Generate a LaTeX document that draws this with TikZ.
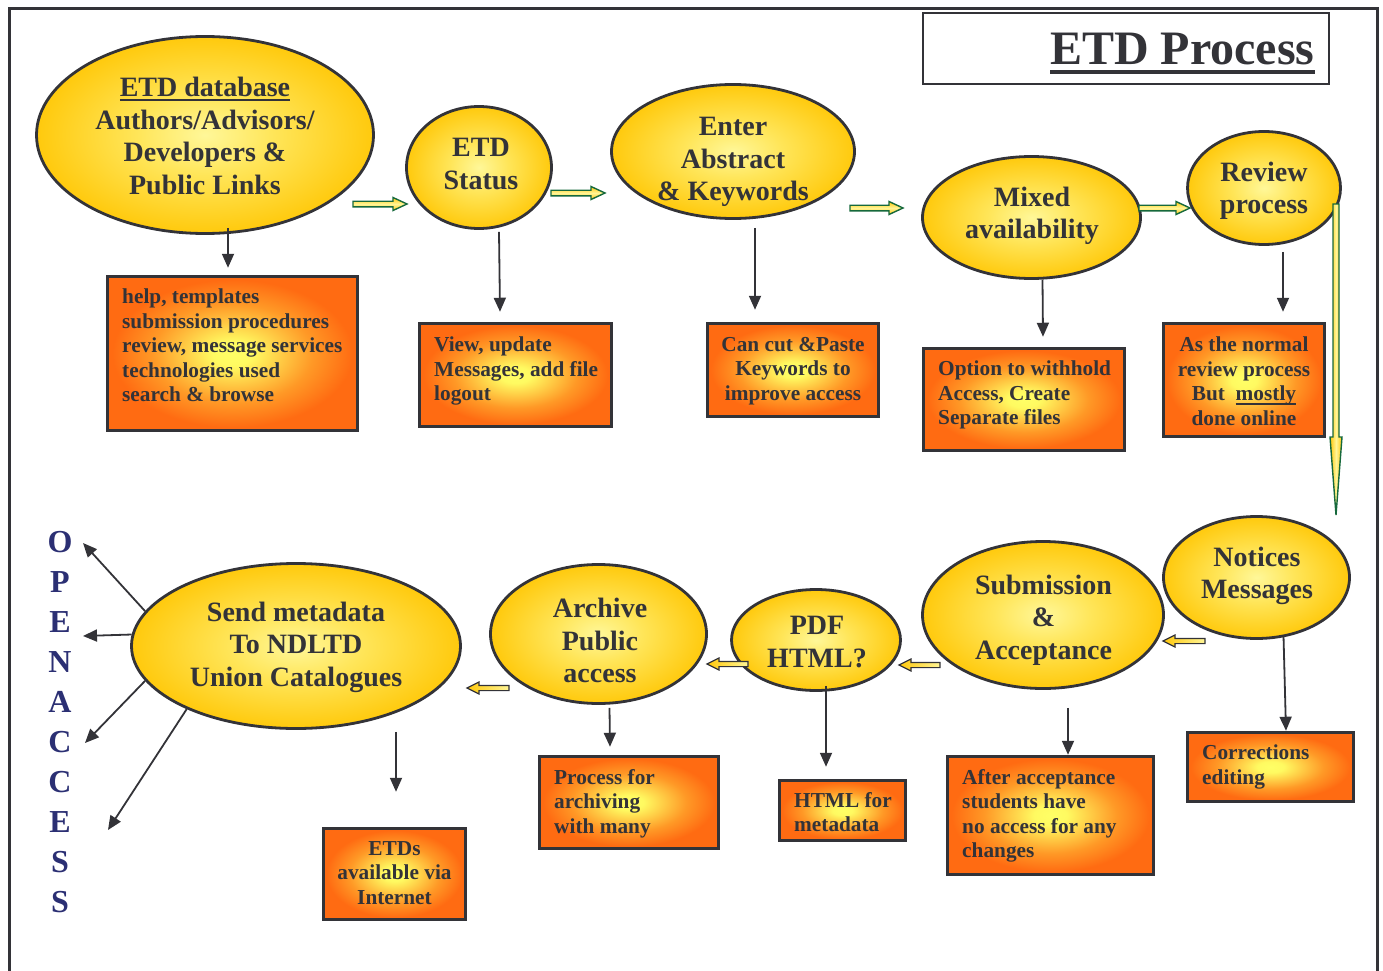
\documentclass[tikz,border=0pt]{standalone}
\usepackage{fontspec}
\setmainfont{Liberation Serif}
\usetikzlibrary{shapes.geometric,arrows.meta,calc}
\definecolor{ink}{RGB}{51,51,56}
\definecolor{navy}{RGB}{43,47,115}
\definecolor{agreen}{RGB}{22,105,60}
\definecolor{gold}{RGB}{255,200,10}
\definecolor{lightyel}{RGB}{255,245,150}
\pgfdeclareradialshading{ellshade}{\pgfpoint{0bp}{0bp}}{rgb(0bp)=(1,0.97,0.6); rgb(10bp)=(1,0.9,0.35); rgb(25bp)=(1,0.79,0.05); rgb(100bp)=(1,0.79,0.05)}
\pgfdeclareradialshading{boxshade}{\pgfpoint{0bp}{0bp}}{rgb(0bp)=(1,1,0.4); rgb(4bp)=(1,0.98,0.38); rgb(16bp)=(1,0.6,0.15); rgb(24bp)=(1,0.42,0.07); rgb(100bp)=(1,0.42,0.07)}
\newcommand\ulx[3]{\setbox0=\hbox{#3}\rlap{\rule[-#1]{\wd0}{#2}}\box0}
\newcommand\rba[3]{\draw[garr] (#1,#3-2.8) -- (#2-14,#3-2.8) -- (#2-14,#3-6.5) -- (#2,#3) -- (#2-14,#3+6.5) -- (#2-14,#3+2.8) -- (#1,#3+2.8) -- cycle;}
\newcommand\lba[3]{\draw[larr] (#1,#3-2.6) -- (#2+12,#3-2.6) -- (#2+12,#3-6) -- (#2,#3) -- (#2+12,#3+6) -- (#2+12,#3+2.6) -- (#1,#3+2.6) -- cycle;}
\tikzset{
 ell/.style={ellipse, draw=ink, line width=2.8pt, shade, shading=ellshade, inner sep=0pt},
 ebox/.style={rectangle, draw=ink, line width=3.5pt, shade, shading=boxshade, inner sep=0pt},
 etxt/.style={text=ink, font=\fontsize{28}{32.5}\selectfont\bfseries, align=center, inner sep=0pt},
 btxt/.style={text=ink, font=\fontsize{21.3}{24.5}\selectfont\bfseries, inner sep=0pt},
 conn/.style={draw=ink, line width=1.8pt, -{Triangle[length=14pt,width=12pt]}},
 garr/.style={draw=agreen, line width=1.4pt, top color=gold, bottom color=gold, middle color=lightyel},
 vgarr/.style={draw=agreen, line width=1.4pt, left color=gold, right color=gold, middle color=lightyel},
 larr/.style={draw=ink, line width=1.2pt, left color=gold, right color=lightyel},
}
\begin{document}
\begin{tikzpicture}[x=1pt,y=-1pt]
\useasboundingbox (0,0) rectangle (1383,971);
\draw[ink, line width=3pt] (9,971) -- (9,9) -- (1377,9) -- (1377,971);
\node[draw=ink, line width=2pt, minimum width=406pt, minimum height=71pt, anchor=north west, inner sep=0pt] (tbox) at (922,12) {};
\node[text=ink, font=\fontsize{48}{50}\selectfont\bfseries, anchor=base west, inner sep=0pt] (title) at (1050,65) {\ulx{9pt}{4pt}{ETD Process}};

% ellipses
\node[ell, minimum width=337pt, minimum height=197pt] (e1) at (205,135) {};
\node[ell, minimum width=145pt, minimum height=122pt] (e2) at (479,167.5) {};
\node[ell, minimum width=243pt, minimum height=134pt] (e3) at (733,151.5) {};
\node[ell, minimum width=218pt, minimum height=122pt] (e4) at (1031.5,217.5) {};
\node[ell, minimum width=153pt, minimum height=113pt] (e5) at (1264,188) {};
\node[ell, minimum width=186pt, minimum height=122pt] (e6) at (1256.5,577.5) {};
\node[ell, minimum width=241pt, minimum height=147pt] (e7) at (1043,615) {};
\node[ell, minimum width=169pt, minimum height=101pt] (e8) at (816,640) {};
\node[ell, minimum width=216pt, minimum height=139pt] (e9) at (598.5,634) {};
\node[ell, minimum width=329pt, minimum height=165pt] (e10) at (296,646) {};

\node[etxt] (t1) at (205,136) {\ulx{4pt}{2pt}{ETD database}\\Authors/Advisors/\\Developers \&\\Public Links};
\node[etxt] (t2) at (481,164) {ETD\\Status};
\node[etxt] (t3) at (733,162) {Enter\\Abstract\\\& Keywords};
\node[etxt] (t4) at (1032,216) {Mixed\\availability};
\node[etxt] (t5) at (1264,191) {Review\\process};
\node[etxt] (t6) at (1257,576) {Notices\\Messages};
\node[etxt] (t7) at (1043.5,620) {Submission\\\&\\Acceptance};
\node[etxt] (t8) at (817,642) {PDF\\HTML?};
\node[etxt] (t9) at (600,640.5) {Archive\\Public\\access};
\node[etxt] (t10) at (296,647) {Send metadata\\To NDLTD\\Union Catalogues};

% boxes
\node[ebox, minimum width=250pt, minimum height=154pt] (bA) at (232.5,353.5) {};
\node[ebox, minimum width=192pt, minimum height=103pt] (bB) at (515.5,375) {};
\node[ebox, minimum width=171pt, minimum height=93pt] (bC) at (793,370) {};
\node[ebox, minimum width=201pt, minimum height=102pt] (bD) at (1024,399.5) {};
\node[ebox, minimum width=161pt, minimum height=113pt] (bE) at (1244,380) {};
\node[ebox, minimum width=166pt, minimum height=69pt] (bF) at (1270.5,767) {};
\node[ebox, minimum width=206pt, minimum height=118pt] (bG) at (1050.5,815.5) {};
\node[ebox, minimum width=126pt, minimum height=60pt] (bH) at (842.5,810.5) {};
\node[ebox, minimum width=179pt, minimum height=92pt] (bI) at (629,802.5) {};
\node[ebox, minimum width=142pt, minimum height=91pt] (bJ) at (394.5,874) {};

\node[btxt, align=left, anchor=north west] (xA) at (122,289) {help, templates\\submission procedures\\review, message services\\technologies used\\search \& browse};
\node[btxt, align=left, anchor=north west] (xB) at (434,337) {View, update\\Messages, add file\\logout};
\node[btxt, align=center, anchor=north] (xC) at (793,337) {Can cut \&Paste\\Keywords to\\improve access};
\node[btxt, align=left, anchor=north west] (xD) at (938,361) {Option to withhold\\Access, Create\\Separate files};
\node[btxt, align=center, anchor=north] (xE) at (1244,337) {As the normal\\review process\\But~~\ulx{4.5pt}{2pt}{mostly}\\done online};
\node[btxt, align=left, anchor=north west] (xF) at (1202,745) {Corrections\\editing};
\node[btxt, align=left, anchor=north west] (xG) at (962,769) {After acceptance\\students have\\no access for any\\changes};
\node[btxt, align=left, anchor=north west] (xH) at (794,792) {HTML for\\metadata};
\node[btxt, align=left, anchor=north west] (xI) at (554,769) {Process for\\archiving\\with many};
\node[btxt, align=center, anchor=north] (xJ) at (394.5,841) {ETDs\\available via\\Internet};

% open access letters
\node[text=navy, font=\fontsize{32}{40}\selectfont\bfseries, align=center, inner sep=0pt] (oa) at (60,722) {O\\P\\E\\N\\A\\C\\C\\E\\S\\S};

% connectors
\draw[conn] ($(e1.south)+(23,-7)$) -- ($(bA.north)+(-4.5,-7)$);
\draw[conn] ($(e2.south)+(20,2)$) -- ($(bB.north)+(-15.5,-10)$);
\draw[conn] ($(e3.south)+(22,8)$) -- ($(bC.north)+(-38,-12)$);
\draw[conn] ($(e4.south)+(11,0)$) -- ($(bD.north)+(19,-10)$);
\draw[conn] ($(e5.south)+(19,6)$) -- ($(bE.north)+(39,-10)$);
\draw[conn] ($(e6.south)+(27,-4)$) -- ($(bF.north)+(15.5,0)$);
\draw[conn] ($(e7.south)+(25,18)$) -- ($(bG.north)+(17.5,0)$);
\draw[conn] ($(e8.south)+(10,-6)$) -- ($(bH.north)+(-16.5,-12)$);
\draw[conn] ($(e9.south)+(11,3)$) -- ($(bI.north)+(-19,-8)$);
\draw[conn] ($(e10.south)+(100,2)$) -- ($(bJ.north)+(1.5,-35)$);

\coordinate (oa1) at (83,543);
\coordinate (oa2) at (83,636);
\coordinate (oa3) at (85,743);
\coordinate (oa4) at (108,830);
\draw[conn] (e10.167) -- (oa1);
\draw[conn] (e10.176) -- (oa2);
\draw[conn] (e10.193) -- (oa3);
\draw[conn] (e10.210) -- (oa4);

% block arrows
\rba{353}{407}{204}
\rba{551}{605}{193}
\rba{850}{903}{208}
\rba{1139}{1190}{208}
\draw[vgarr] (1333,204) -- (1333,437) -- (1330,437) -- (1336,515) -- (1342,437) -- (1339,437) -- (1339,204) -- cycle;
\lba{1205}{1163}{641}
\lba{940}{899}{665}
\lba{748}{707}{664}
\lba{509}{467}{688}
\end{tikzpicture}
\end{document}
